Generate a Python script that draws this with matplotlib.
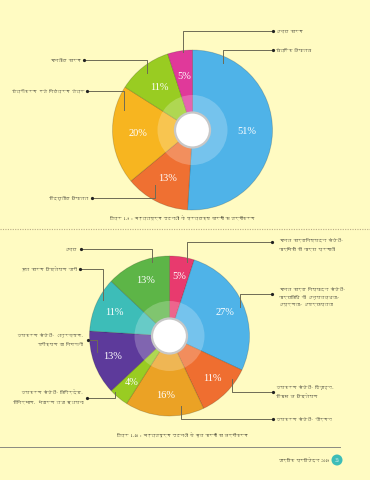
import matplotlib
matplotlib.use("Agg")
import matplotlib.pyplot as plt
from matplotlib import font_manager
from matplotlib.patches import Circle
from fontTools.ttLib import TTFont


def find_deva_font():
    # look for any installed family that has Devanagari glyphs
    for f in font_manager.fontManager.ttflist:
        try:
            tt = TTFont(f.fname, fontNumber=0, lazy=True)
            cmap = tt.getBestCmap() or {}
            if 0x0915 in cmap and 0x093F in cmap:
                return f.name
        except Exception:
            continue
    return "Noto Sans"


DEVA = find_deva_font()
FAM = [DEVA, "DejaVu Sans"]
plt.rcParams['font.family'] = FAM

W, H = 370, 480
BG = "#fffbc2"

# Fig 1.9 - direct causes, clockwise from 12 o'clock
direct_labels = ["यांत्रिक विफलता", "विद्युतीय विफलता", "यंत्रीकरण एवं नियंत्रण तंत्र",
                 "मानवीय कारण", "अन्य कारण"]
direct_values = [51, 13, 20, 11, 5]
direct_colors = ["#4fb3e8", "#ef7032", "#f7b520", "#99cc22", "#e0399a"]

# Fig 1.10 - root causes, clockwise from 12 o'clock
root_labels = ["मानव कार्यनिष्पादन संबंधी-\nकार्मिकों की कार्य प्रणाली",
               "मानव कार्य निष्पादन संबंधी-\nकार्यविधि की अनुपलब्धता/\nअपूर्णता/ अपर्याप्तता",
               "उपकरण संबंधी- डिज़ाइन,\nविकास व विश्लेषण",
               "उपकरण संबंधी- जीर्णन",
               "उपकरण संबंधी- विनिर्देश,\nविनिर्माण, भंडारण तथा स्थापना",
               "उपकरण संबंधी- अनुरक्षण,\nपरीक्षण या निगरानी",
               "मूल कारण विश्लेषण जारी",
               "अन्य"]
root_values = [5, 27, 11, 16, 4, 13, 11, 13]
root_colors = ["#e83a6e", "#4fb3e8", "#ef6e30", "#eba225", "#99cc22",
               "#5d3a9b", "#3dbdb8", "#5db547"]

captions = ["चित्र 1.9 : महत्वपूर्ण घटनाओं के प्रत्यक्ष कारणों का वर्गीकरण",
            "चित्र 1.10 : महत्वपूर्ण घटनाओं के मूल कारणों का वर्गीकरण"]

# leader layout: text x, text y, ha, dot x, dot y, elbow x, tip y (pixels, y down)
direct_leaders = [(276, 50, "left", 273, 50, 223, 63),
                  (88, 198, "right", 92, 198, 155, 185),
                  (84, 91, "right", 87, 91, 124, 110),
                  (81, 60, "right", 84, 60, 147, 73),
                  (276, 31, "left", 273, 31, 183, 52)]
root_leaders = [(279, 244, "left", 272, 242, 187, 262),
                (279, 296, "left", 272, 294, 240, 307),
                (276, 392, "left", 273, 392, 232, 379),
                (276, 419, "left", 273, 419, 181, 406),
                (83, 397, "right", 87, 398, 115, 392),
                (83, 339, "right", 88, 340, 97, 352),
                (77, 269, "right", 80, 269, 103, 300),
                (77, 249, "right", 81, 249, 152, 262)]

LABEL_FS = 3.0
INK = "#1a1a1a"


def Y(y):
    return H - y


def donut(ax, values, colors, cx, cy, pctdist):
    wedges, _, autotexts = ax.pie(
        values, colors=colors, startangle=90, counterclock=False,
        center=(cx, Y(cy)), radius=80, pctdistance=pctdist,
        autopct=lambda p: f"{p:.0f}%",
        wedgeprops=dict(linewidth=0.6, edgecolor=(0, 0, 0, 0.18)),
        textprops=dict(color="white", fontsize=7.5, family="Liberation Serif"))
    ax.add_patch(Circle((cx, Y(cy)), 35, fc="white", ec="none", alpha=0.22, zorder=3))
    ax.add_patch(Circle((cx, Y(cy)), 17.5, fc="white", ec="#c8c8c8", lw=1.6, zorder=4))
    for t in autotexts:
        t.set_zorder(5)


def leaders(ax, labels, layout):
    for lab, (tx, ty, ha, dx, dy, ex, tipy) in zip(labels, layout):
        ax.plot([dx, ex, ex], [Y(dy), Y(dy), Y(tipy)], color="#6e6b55", lw=0.7, zorder=6)
        ax.plot(dx, Y(dy), "o", color="#222222", ms=1.3, zorder=7)
        ax.text(tx, Y(ty), lab, ha=ha, va="center", fontsize=LABEL_FS, color=INK,
                linespacing=1.95, zorder=7)


fig = plt.figure(figsize=(W / 100, H / 100), dpi=100, facecolor=BG)
ax = fig.add_axes([0, 0, 1, 1])
ax.set_facecolor(BG)

donut(ax, direct_values, direct_colors, 192.5, 130, 0.68)
leaders(ax, direct_labels, direct_leaders)
ax.text(182, Y(218), captions[0], ha="center", va="center", fontsize=2.75,
        fontweight="bold", color="black")

ax.plot([0, W], [Y(229), Y(229)], color="#b9ab85", lw=0.8, ls=(0, (1, 1.2)))

donut(ax, root_values, root_colors, 169.5, 336, 0.75)
leaders(ax, root_labels, root_leaders)
ax.text(182, Y(435), captions[1], ha="center", va="center", fontsize=2.75,
        fontweight="bold", color="black")

# footer
ax.plot([0, 340], [Y(447), Y(447)], color="#8a8a80", lw=0.7)
ax.text(329, Y(460), "वार्षिक प्रतिवेदन 2019", ha="right", va="center",
        fontsize=2.75, fontweight="bold", color="black")
ax.add_patch(Circle((337, Y(460)), 5.5, fc="#3dbdb8", ec="none"))
ax.text(337, Y(460), "33", ha="center", va="center", fontsize=3.5, color="white")

ax.set_xlim(0, W)
ax.set_ylim(0, H)
ax.set_aspect("equal")
ax.axis("off")

fig.savefig("out.png", dpi=100, facecolor=BG)
